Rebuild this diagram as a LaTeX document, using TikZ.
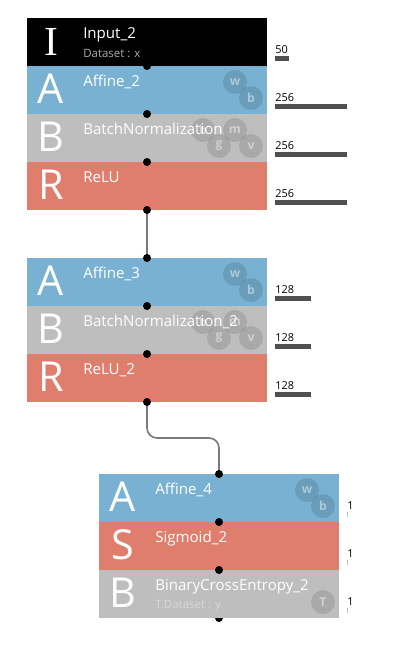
\documentclass[tikz,border=0pt]{standalone}
\usepackage{fontspec}
\setmainfont{Open Sans}
\newfontfamily\serifI{Liberation Serif}
\usetikzlibrary{calc}
\definecolor{inpc}{HTML}{000000}
\definecolor{affc}{HTML}{78B1D1}
\definecolor{bnc}{HTML}{BEBEBE}
\definecolor{actc}{HTML}{E07E6E}
\definecolor{barc}{HTML}{505050}
\definecolor{connc}{HTML}{7A7A7A}
\begin{document}
\begin{tikzpicture}[x=0.75pt,y=-0.75pt,
  layer/.style={rectangle, draw=none, minimum width=180pt, minimum height=36pt, inner sep=0pt, outer sep=0pt},
  bigletter/.style={anchor=base, text=white, inner sep=0pt, font=\fontsize{31}{31}\selectfont},
  lname/.style={anchor=base west, text=white, inner sep=0pt, font=\fontsize{11.3}{13}\selectfont},
  lsub/.style={anchor=base west, inner sep=0pt, font=\fontsize{8.6}{10}\selectfont},
  param/.style={circle, fill=black, fill opacity=0.11, text=white, text opacity=0.45, minimum size=18pt, inner sep=0pt, font=\fontsize{9.2}{10}\selectfont\bfseries},
  num/.style={anchor=base west, inner sep=0pt, text=black, font=\fontsize{8.2}{9}\selectfont},
  bar/.style={fill=barc, draw=none},
  thinbar/.style={fill=black!25, draw=none},
  dot/.style={circle, fill=black, minimum size=6pt, inner sep=0pt, outer sep=0pt},
  conn/.style={draw=connc, line width=1.2pt}
]
\useasboundingbox (0,0) rectangle (420,653);

% ---------- block 1 ----------
\node[layer, fill=inpc] (inp2) at (147,42) {};
\node[layer, fill=affc] (aff2) at (147,90) {};
\node[layer, fill=bnc]  (bn1)  at (147,138) {};
\node[layer, fill=actc] (relu1) at (147,186) {};

% ---------- block 2 ----------
\node[layer, fill=affc] (aff3) at (147,282) {};
\node[layer, fill=bnc]  (bn2)  at (147,330) {};
\node[layer, fill=actc] (relu2) at (147,378) {};

% ---------- block 3 ----------
\node[dot] (bceo) at (219,618) {};
\node[layer, fill=affc] (aff4) at (219,498) {};
\node[layer, fill=actc] (sig2) at (219,546) {};
\node[layer, fill=bnc]  (bce2) at (219,594) {};

% big letters
\node[bigletter, font=\fontsize{31}{31}\serifI] (li) at (51,55) {I};
\node[bigletter] (la2) at (51,103) {A};
\node[bigletter] (lb1) at (51,151) {B};
\node[bigletter] (lr1) at (51,199) {R};
\node[bigletter] (la3) at (51,295) {A};
\node[bigletter] (lb2) at (51,343) {B};
\node[bigletter] (lr2) at (51,391) {R};
\node[bigletter] (la4) at (123,511) {A};
\node[bigletter] (ls2) at (123,559) {S};
\node[bigletter] (lb3) at (123,607) {B};

% parameter circles
\node[param] (p2w) at (235,82) {w};
\node[param] (p2b) at (251,98) {b};
\node[param] (p1b) at (203,130) {b};
\node[param] (p1m) at (235,130) {m};
\node[param] (p1g) at (219,146) {g};
\node[param] (p1v) at (251,146) {v};
\node[param] (p3w) at (235,274) {w};
\node[param] (p3b) at (251,290) {b};
\node[param] (p4b) at (203,322) {b};
\node[param] (p4m) at (235,322) {m};
\node[param] (p4g) at (219,338) {g};
\node[param] (p4v) at (251,338) {v};
\node[param] (p5w) at (307,490) {w};
\node[param] (p5b) at (323,506) {b};
\node[param] (p6t) at (323,602) {T};

% layer names
\node[lname] (ninp) at (83,38) {Input\_2};
\node[lsub, text=black!32] (ndsx) at (83,57) {Dataset : x};
\node[lname] (naff2) at (83,86) {Affine\_2};
\node[lname] (nbn1) at (83,134) {BatchNormalization};
\node[lname] (nrelu1) at (83,182) {ReLU};
\node[lname] (naff3) at (83,278) {Affine\_3};
\node[lname] (nbn2) at (83,326) {BatchNormalization\_2};
\node[lname] (nrelu2) at (83,374) {ReLU\_2};
\node[lname] (naff4) at (155,494) {Affine\_4};
\node[lname] (nsig2) at (155,542) {Sigmoid\_2};
\node[lname] (nbce2) at (155,590) {BinaryCrossEntropy\_2};
\node[lsub, text=white!85!black] (ndsy) at (155,608) {T.Dataset : y};

% output sizes
\node[num] (s1) at (275,53) {50};   \fill[bar] (275,56) rectangle (289,61);
\node[num] (s2) at (275,101) {256}; \fill[bar] (275,104) rectangle (347,109);
\node[num] (s3) at (275,149) {256}; \fill[bar] (275,152) rectangle (347,157);
\node[num] (s4) at (275,197) {256}; \fill[bar] (275,200) rectangle (347,205);
\node[num] (s5) at (275,293) {128}; \fill[bar] (275,296) rectangle (311,301);
\node[num] (s6) at (275,341) {128}; \fill[bar] (275,344) rectangle (311,349);
\node[num] (s7) at (275,389) {128}; \fill[bar] (275,392) rectangle (311,397);
\node[num] (s8) at (347,509) {1};   \fill[thinbar] (347,512) rectangle (348,517);
\node[num] (s9) at (347,557) {1};   \fill[thinbar] (347,560) rectangle (348,565);
\node[num] (s10) at (347,605) {1};  \fill[thinbar] (347,608) rectangle (348,613);

% dot positions
\coordinate (c1) at (147,66);
\coordinate (c2) at (147,114);
\coordinate (c3) at (147,162);
\coordinate (c4) at (147,210);
\coordinate (c5) at (147,258);
\coordinate (c6) at (147,306);
\coordinate (c7) at (147,354);
\coordinate (c8) at (147,402);
\coordinate (c9) at (219,474);
\coordinate (c10) at (219,522);
\coordinate (c11) at (219,570);

% connectors
\draw[conn] (c4) -- (c5);
\draw[conn, rounded corners=7.5pt] (c8) |- ($(c8)!0.5!(c9)$) -| (c9);

% dots
\foreach \c in {c1,c2,c3,c4,c5,c6,c7,c8,c9,c10,c11}
  \node[dot] at (\c) {};
\end{tikzpicture}
\end{document}
